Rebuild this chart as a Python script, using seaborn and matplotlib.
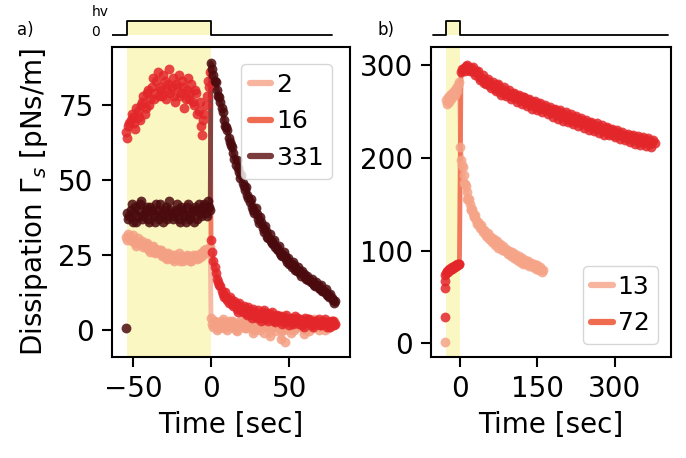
import numpy as np
import pandas as pd
import seaborn as sns
from matplotlib import pyplot as plt
from matplotlib.lines import Line2D

# ---------------- panel a) ----------------
# pre illumination samples: t = -54.5 ... -0.5 (step 1.5), "mid" samples sit 0.75 s later
# post illumination samples: t = 0 ... 79.5 (step 1.5), "mid" samples sit 0.75 s later
a_pre_start, a_post_start, a_step = -54.5, 0.0, 1.5

a2_pre = [31, 32, 30, 31.5, 29, 30.5, 28.5, 29.5, 28, 29, 27, 27.5, 26, 27, 25.5, 26.5,
          25, 24, 25.5, 24, 23.5, 25, 24, 23, 24.5, 23.5, 25, 24, 23, 24.5, 25, 24,
          25.5, 26, 27, 26, 27.5]
a2_pre_mid = [30, 31, 29.5, 30, 28, 29, 29, 27.5, 28.5, 27, 26, 28, 25.5, 26, 26.5, 24.5,
              25.5, 23.5, 24.5, 25, 23, 24, 25.5, 24, 23, 24, 24.5, 23, 25, 24, 23.5, 25,
              24.5, 26.5, 25.5, 27]
a2_post = [4, 1, 2.5, 0.5, 2, 3.5, 1, 0, 2, 3, 1.5, -0.5, 2, 1, 3, 0.5, 2.5, 1, -1, 2,
           3, 0, 1.5, 2.5, 1, -2, 0.5, 2, 3, 1, -3, 0, 2, 1.5, -1, 2.5, 0.5, 1, 3, 2,
           0, 1.5, -0.5, 2, 3.5, 1, 0, 2, 2.5, 1, 0.5, 3, 1.5, 2]
a2_post_mid = [2, 3, 0, 1.5, 2.5, 0.5, 2, 3, 1, 2.5, 0, 1.5, 3, 2, 0.5, 1, 3.5, 2, 0, 1,
               2.5, 1.5, -1, 2, 3, 0.5, 1.5, -0.5, 2, 2.5, 0, -4, 1, 3, 2, 0, 1.5, 2.5,
               1, -1.5, 2, 3, 1, 0.5, 2, 1.5, 3, 1, 0, 2.5, 1.5, 2, 3]

a16_pre = [66, 68, 70, 71, 67, 73, 70, 76, 72, 79, 75, 81, 77, 83, 78, 80, 85, 77, 82,
           79, 84, 76, 81, 78, 83, 74, 80, 77, 82, 75, 79, 73, 68, 70, 75, 83, 86]
a16_pre_mid = [64, 69, 72, 69, 74, 71, 75, 78, 74, 80, 77, 84, 79, 86, 81, 78, 83, 80,
               87, 81, 78, 82, 85, 79, 81, 77, 84, 79, 76, 80, 72, 76, 65, 72, 78, 81]
a16_post = [30, 23, 19, 16, 14.5, 12, 12.5, 10, 11, 8.5, 9.5, 7, 9, 6.5, 8, 5.5, 7.5, 5,
            7, 4.5, 6.5, 4, 6, 3.5, 5.5, 4, 6, 3, 5, 3.5, 4.5, 2.5, 5, 3, 4, 2, 4.5, 3,
            3.5, 1.5, 4, 2.5, 3.5, 1.5, 3, 2, 3.5, 1.5, 3, 2, 2.5, 1, 3, 2]
a16_post_mid = [26, 21, 17, 15, 13, 11, 10.5, 9, 10, 8, 8.5, 6, 7.5, 6, 6.5, 5, 6, 4,
                5.5, 4, 5, 3, 6.5, 4.5, 3, 5, 4, 2.5, 4.5, 3.5, 2, 4, 3, 1.5, 3.5, 2.5,
                4, 2, 3, 1, 2.5, 3.5, 2, 1, 3, 2.5, 1.5, 2, 3.5, 1, 2, 3, 1.5]

a331_pre = [0.5, 37, 40, 36, 41, 38, 42, 37, 39, 41, 36, 40, 38, 42, 37, 39, 36, 41, 38,
            40, 37, 39, 42, 36, 40, 38, 41, 37, 39, 36, 40, 42, 38, 41, 39, 43, 40]
a331_pre_mid = [39, 38, 42, 39, 36, 40, 43, 38, 40, 37, 41, 39, 36, 40, 42, 38, 40, 37,
                43, 39, 38, 40, 37, 41, 39, 36, 42, 38, 40, 41, 37, 39, 40, 42, 38, 41]
a331_post = [89, 85, 82.5, 78, 76, 72.5, 68, 66.5, 62.5, 61, 57, 56.5, 52.5, 51.5, 48,
             47.5, 44, 43.5, 40, 40.5, 37, 37.5, 34, 34.5, 31, 32, 29, 30, 27, 28, 25,
             26, 23.5, 24, 22, 22.5, 20, 21, 19, 19.5, 17.5, 18, 16.5, 17, 15, 16, 14,
             15, 13, 13.5, 11.5, 12, 10, 9.5]
a331_post_mid = [87, 83, 80, 77.5, 74, 70, 67.5, 64, 61.5, 59, 55, 54, 50.5, 49, 46.5,
                 45, 42.5, 41, 39, 38.5, 35.5, 36, 32.5, 33, 30.5, 29.5, 28.5, 27.5,
                 26.5, 25.5, 24.5, 24.5, 22.5, 22, 21, 21.5, 19.5, 19.5, 18, 18.5, 17,
                 16.5, 16, 15.5, 14.5, 14.5, 13.5, 13, 12.5, 11.5, 11, 10.5, 9]

# ---------------- panel b) ----------------
b13_out_t, b13_out_v = [-29], [1.5]
b13_pre_start, b13_pre_step = -27, 2
b13_pre = [262, 258, 265, 260, 268, 263, 270, 266, 272, 268, 275, 272, 278, 282]
b13_post_start, b13_post_step = 1, 3
b13_post = [212, 192, 181, 172, 163, 156, 150, 145, 140, 137, 133, 130, 128, 125, 123,
            121, 119, 117, 115, 114, 112, 111, 109, 108, 107, 105, 104, 103, 102, 101,
            99, 98, 97, 96, 95, 94, 93, 92, 91, 90, 89, 88.5, 88, 87, 86, 85, 84.5, 84,
            83, 82, 81.5, 81, 80, 79]
b13_post_mid = [198, 190, 173, 170, 156, 156, 144, 145, 136, 138, 129, 131, 124, 127,
                120, 122, 116, 119, 112, 115, 109, 112, 106, 110, 103, 107, 101, 105, 99,
                102, 96, 100, 94, 98, 92, 96, 90, 94, 88, 92, 86, 90, 85, 89, 83, 87, 82,
                86, 80, 84, 79, 82, 77]

b72_out_t, b72_out_v = [-29, -29, -29], [28, 60, 67]
b72_pre_start, b72_pre_step = -28, 1.5
b72_pre = [74, 76, 78, 77, 79, 80, 79, 81, 80, 82, 81, 83, 82, 84, 83, 85, 84, 86, 85]
b72_post_start, b72_post_step = 2, 5
b72_post = [292, 297, 299, 295, 297, 292, 293, 287, 286, 281, 283, 278, 280, 274, 278,
            271, 274, 269, 271, 266, 269, 264, 266, 262, 265, 259, 262, 257, 260, 255,
            258, 253, 255, 251, 253, 248, 251, 246, 249, 244, 247, 242, 245, 240, 243,
            238, 241, 236, 239, 234, 237, 232, 235, 231, 233, 229, 232, 227, 230, 225,
            228, 224, 226, 222, 225, 220, 223, 219, 221, 217, 220, 216, 219, 215, 217,
            216]
b72_post_mid = [296, 293, 300, 293, 298, 289, 294, 284, 289, 279, 285, 275, 282, 272,
                279, 268, 276, 266, 273, 263, 270, 260, 268, 258, 265, 256, 263, 253,
                261, 251, 259, 249, 257, 247, 255, 244, 253, 242, 251, 240, 249, 238,
                247, 236, 245, 234, 243, 232, 241, 230, 239, 229, 237, 227, 235, 225,
                233, 224, 231, 222, 230, 220, 228, 219, 226, 217, 225, 215, 223, 214,
                222, 213, 221, 212, 219]

# illumination (hv) traces
hv_a_t, hv_a_v = [-63.6, -54, -54, 0, 0, 77.6], [0, 0, 1, 1, 0, 0]
hv_b_t, hv_b_v = [-52, -27, -27, 0, 0, 403], [0, 0, 1, 1, 0, 0]
light_a = (-54, 0)
light_b = (-27, 0)

line_cols = {'2': '#f7b59f', '16': '#f06c50', '331': '#7a3c3c',
             '13': '#f7b59f', '72': '#f06c50'}
dot_cols = {'2': '#f4a084', '16': '#e3262a', '331': '#4b0b0e',
            '13': '#f5a488', '72': '#e3262a'}
yellow = '#fbf7c2'

sns.set_style('ticks')
plt.rcParams.update({'font.size': 20, 'axes.linewidth': 1.5,
                     'xtick.major.width': 1.5, 'ytick.major.width': 1.5,
                     'xtick.major.size': 7, 'ytick.major.size': 7,
                     'xtick.major.pad': 6, 'ytick.major.pad': 6,
                     'xtick.labelsize': 20, 'ytick.labelsize': 20,
                     'axes.labelsize': 20, 'axes.edgecolor': 'black',
                     'text.color': 'black', 'axes.labelcolor': 'black',
                     'xtick.color': 'black', 'ytick.color': 'black'})
plt.rcParams['font.family'] = ['DejaVu Sans']


def times(vals, start, step):
    return start + step * np.arange(len(vals))


def draw(ax, name, pre, post, extra):
    # pre / post / extra are (t, v) pairs; the line links the jump at t=0 and the decay
    lt = np.r_[pre[0][-1], post[0]]
    lv = np.r_[pre[1][-1], post[1]]
    sns.lineplot(x=lt, y=lv, ax=ax, color=line_cols[name], lw=3.5, alpha=0.9,
                 sort=False, estimator=None, zorder=2)
    pts = [pre, post] + extra
    df = pd.DataFrame({'t': np.concatenate([np.asarray(p[0], float) for p in pts]),
                       'v': np.concatenate([np.asarray(p[1], float) for p in pts])})
    sns.scatterplot(data=df, x='t', y='v', ax=ax, color=dot_cols[name], s=50,
                    linewidth=0, alpha=0.85, zorder=3, legend=False)


fig = plt.figure(figsize=(6.86, 4.58), dpi=100)
axa = fig.add_axes([0.1628, 0.2212, 0.3474, 0.6769])
axb = fig.add_axes([0.6283, 0.2212, 0.3494, 0.6769])
hva = fig.add_axes([0.1628, 0.917, 0.3474, 0.0524], sharex=axa)
hvb = fig.add_axes([0.6283, 0.917, 0.3494, 0.0524], sharex=axb)

# panel a
axa.axvspan(*light_a, color=yellow, zorder=0, lw=0)
for name, pre, pre_mid, post, post_mid in [
        ('2', a2_pre, a2_pre_mid, a2_post, a2_post_mid),
        ('16', a16_pre, a16_pre_mid, a16_post, a16_post_mid),
        ('331', a331_pre, a331_pre_mid, a331_post, a331_post_mid)]:
    draw(axa, name,
         (times(pre, a_pre_start, a_step), pre),
         (times(post, a_post_start, a_step), post),
         [(times(pre_mid, a_pre_start + a_step / 2, a_step), pre_mid),
          (times(post_mid, a_post_start + a_step / 2, a_step), post_mid)])
axa.set_xlim(-63.6, 89)
axa.set_ylim(-9, 94.4)
axa.set_xticks([-50, 0, 50])
axa.set_yticks([0, 25, 50, 75])
axa.set_xlabel('Time [sec]', labelpad=6)
axa.set_ylabel(r'Dissipation $\Gamma_s$ [pNs/m]', labelpad=6)
ha = [Line2D([], [], color=line_cols[k], lw=4.5) for k in ['2', '16', '331']]
axa.legend(ha, ['2', '16', '331'], loc='upper right', fontsize=18,
           handlelength=0.85, handletextpad=0.2, labelspacing=0.5,
           borderaxespad=0.7, borderpad=0.35)

# panel b
axb.axvspan(*light_b, color=yellow, zorder=0, lw=0)
draw(axb, '13',
     (times(b13_pre, b13_pre_start, b13_pre_step), b13_pre),
     (times(b13_post, b13_post_start, b13_post_step), b13_post),
     [(b13_out_t, b13_out_v),
      (times(b13_post_mid, b13_post_start + 1.5, b13_post_step), b13_post_mid)])
draw(axb, '72',
     (times(b72_pre, b72_pre_start, b72_pre_step), b72_pre),
     (times(b72_post, b72_post_start, b72_post_step), b72_post),
     [(b72_out_t, b72_out_v),
      (times(b72_post_mid, b72_post_start + 2.5, b72_post_step), b72_post_mid)])
axb.set_xlim(-56, 408)
axb.set_ylim(-14.4, 319.7)
axb.set_xticks([0, 150, 300])
axb.set_yticks([0, 100, 200, 300])
axb.set_xlabel('Time [sec]', labelpad=6)
axb.set_ylabel('')
hb = [Line2D([], [], color=line_cols[k], lw=4.5) for k in ['13', '72']]
axb.legend(hb, ['13', '72'], loc='lower right', fontsize=18,
           handlelength=0.85, handletextpad=0.2, labelspacing=0.5,
           borderaxespad=0.5, borderpad=0.35)

# hv indicator strips
for hv, tt, vv, lit in [(hva, hv_a_t, hv_a_v, light_a), (hvb, hv_b_t, hv_b_v, light_b)]:
    hv.fill_between(lit, [0, 0], [1, 1], color=yellow, lw=0)
    sns.lineplot(x=tt, y=vv, ax=hv, color='black', lw=1.3, sort=False, estimator=None)
    hv.set_ylim(-0.214, 1.5)
    hv.axis('off')

fig.text(100 / 686, 1 - 12 / 458, 'hv', fontsize=10, ha='center', va='center')
fig.text(95 / 686, 1 - 32 / 458, '0', fontsize=10, ha='center', va='center')
fig.text(25 / 686, 1 - 30 / 458, 'a)', fontsize=12, ha='center', va='center')
fig.text(386 / 686, 1 - 30 / 458, 'b)', fontsize=12, ha='center', va='center')

fig.savefig('out.png', dpi=100)
